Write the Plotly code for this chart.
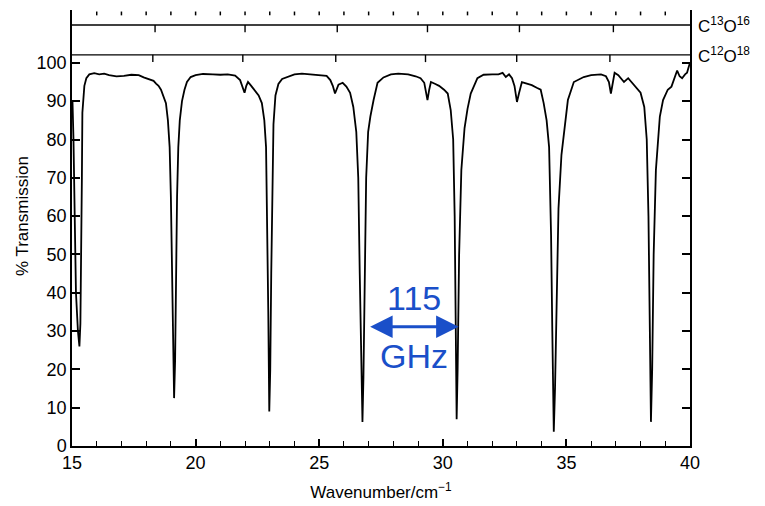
import plotly.graph_objects as go

# ---- data ----
wavenumber = [
    15.00, 15.02, 15.06, 15.10, 15.16, 15.24, 15.30, 15.34, 15.38, 15.40, 15.42, 15.46, 15.50, 15.58, 15.70,
    15.90, 16.10, 16.30, 16.50, 16.80, 17.10, 17.40, 17.70, 17.90, 18.10, 18.30, 18.40, 18.50, 18.60, 18.70,
    18.80, 18.88, 18.95, 19.00, 19.05, 19.09, 19.13, 19.17, 19.21, 19.25, 19.30, 19.36, 19.45, 19.55, 19.65,
    19.80, 20.00, 20.30, 20.70, 21.00, 21.30, 21.60, 21.80, 21.90, 21.98, 22.05, 22.12, 22.25, 22.40, 22.55,
    22.68, 22.78, 22.85, 22.90, 22.94, 22.98, 23.02, 23.06, 23.10, 23.15, 23.23, 23.35, 23.50, 23.75, 24.00,
    24.30, 24.70, 25.00, 25.30, 25.45, 25.55, 25.64, 25.70, 25.78, 25.95, 26.10, 26.25, 26.38, 26.50, 26.58,
    26.64, 26.70, 26.75, 26.79, 26.84, 26.90, 26.98, 27.07, 27.20, 27.36, 27.60, 27.90, 28.20, 28.60, 28.90,
    29.10, 29.25, 29.38, 29.45, 29.52, 29.70, 29.85, 30.05, 30.20, 30.32, 30.42, 30.48, 30.52, 30.56, 30.60,
    30.66, 30.75, 30.88, 31.00, 31.13, 31.40, 31.65, 32.00, 32.25, 32.42, 32.55, 32.68, 32.80, 32.90, 33.00,
    33.08, 33.20, 33.40, 33.60, 33.80, 33.96, 34.08, 34.20, 34.30, 34.38, 34.43, 34.49, 34.54, 34.60, 34.68,
    34.80, 34.92, 35.06, 35.30, 35.70, 36.00, 36.40, 36.60, 36.72, 36.80, 36.88, 36.95, 37.10, 37.33, 37.50,
    37.73, 37.90, 38.00, 38.15, 38.25, 38.32, 38.37, 38.42, 38.47, 38.53, 38.62, 38.78, 38.91, 39.10, 39.25,
    39.40, 39.48, 39.58, 39.68, 39.80, 39.88, 39.95, 40.00,
]
transmission = [
    90.0, 90.0, 80.0, 60.0, 40.0, 30.0, 26.0, 32.0, 50.0, 70.0, 87.0, 90.0, 94.0, 96.0, 97.0,
    97.3, 97.0, 97.2, 96.8, 96.5, 96.6, 96.9, 96.8, 96.2, 95.8, 95.3, 94.6, 94.0, 93.0, 91.5,
    89.5, 85.0, 78.0, 65.0, 45.0, 25.0, 12.5, 22.0, 45.0, 65.0, 78.0, 85.0, 90.0, 93.0, 95.0,
    96.3, 96.8, 97.1, 97.0, 96.9, 97.0, 96.7, 95.5, 93.5, 92.2, 94.0, 95.0, 94.0, 92.8, 91.5,
    89.5, 85.0, 78.0, 60.0, 35.0, 9.0, 20.0, 45.0, 70.0, 84.0, 91.5, 94.5, 95.8, 96.4, 97.0,
    97.2, 96.9, 96.8, 96.6, 95.5, 94.0, 92.0, 93.0, 94.3, 94.8, 93.8, 92.2, 88.5, 82.0, 70.0,
    45.0, 20.0, 6.3, 18.0, 45.0, 70.0, 82.0, 86.0, 90.3, 94.8, 96.2, 97.0, 97.2, 97.0, 96.5,
    96.0, 94.8, 90.3, 93.0, 95.0, 94.5, 94.0, 93.0, 92.0, 87.7, 80.0, 60.0, 35.0, 7.0, 20.0,
    50.0, 72.0, 83.0, 88.0, 92.0, 96.0, 96.9, 97.0, 97.0, 97.4, 96.3, 97.0, 96.0, 94.0, 89.8,
    92.0, 95.0, 94.6, 94.2, 93.5, 93.0, 89.5, 85.0, 78.0, 55.0, 30.0, 3.7, 15.0, 40.0, 62.0,
    76.0, 83.0, 90.3, 95.0, 96.3, 96.8, 97.0, 96.5, 95.0, 92.0, 95.0, 97.4, 96.8, 95.0, 96.0,
    94.3, 93.2, 92.2, 88.5, 80.0, 60.0, 30.0, 6.3, 20.0, 50.0, 72.0, 86.0, 90.3, 93.0, 93.8,
    96.5, 98.0, 96.5, 96.0, 97.0, 97.4, 99.0, 100.0,
]

# isotopologue reference scales (baseline levels and line positions)
iso_labels = ["C<sup>13</sup>O<sup>16</sup>", "C<sup>12</sup>O<sup>18</sup>"]
iso_levels = [109.9, 102.1]
iso_lines = [
    [18.36, 22.00, 25.73, 29.38, 33.10, 36.90],
    [18.27, 21.91, 25.67, 29.30, 32.99, 36.76],
]
iso_tick_depth = 1.9

# small scale marks along the top edge (one per cm^-1)
top_marks = [16, 17, 18, 19, 20, 21, 22, 23, 24, 25, 26, 27, 28, 29, 30,
             31, 32, 33, 34, 35, 36, 37, 38, 39]
top_mark_span = [112.4, 113.4]

x_range = [15, 40]
y_range = [0, 113.8]
y_ticks = [0, 10, 20, 30, 40, 50, 60, 70, 80, 90, 100]
x_ticks = [15, 20, 25, 30, 35, 40]

x_title = "Wavenumber/cm<sup>−1</sup>"
y_title = "% Transmission"
y_title_level = 60.0

arrow_from = 27.0
arrow_to = 30.64
arrow_level = 31.1
note_top = "115"
note_bottom = "GHz"

BLUE = "#1a4fc9"
FONT = "Liberation Sans, Arial, sans-serif"

fig = go.Figure()

fig.add_trace(go.Scatter(
    x=wavenumber, y=transmission, mode="lines",
    line=dict(color="black", width=1.8), showlegend=False, hoverinfo="skip",
))

for level, lines in zip(iso_levels, iso_lines):
    xs = [x_range[0], x_range[1], None]
    ys = [level, level, None]
    for p in lines:
        xs += [p, p, None]
        ys += [level, level - iso_tick_depth, None]
    fig.add_trace(go.Scatter(
        x=xs, y=ys, mode="lines",
        line=dict(color="black", width=1.4), showlegend=False, hoverinfo="skip",
    ))

mx, my = [], []
for p in top_marks:
    mx += [p, p, None]
    my += [top_mark_span[0], top_mark_span[1], None]
fig.add_trace(go.Scatter(
    x=mx, y=my, mode="lines", line=dict(color="black", width=1.5),
    showlegend=False, hoverinfo="skip",
))

for label, level in zip(iso_labels, iso_levels):
    fig.add_annotation(
        x=1.0, xref="paper", y=level, yref="y", text=label, showarrow=False,
        xanchor="left", yanchor="middle", xshift=6,
        font=dict(family=FONT, size=17, color="black"),
    )

fig.add_annotation(
    x=0.0, xref="paper", y=y_title_level, yref="y", text=y_title, showarrow=False,
    textangle=-90, xanchor="center", yanchor="middle", xshift=-50,
    font=dict(family=FONT, size=17, color="black"),
)

fig.add_annotation(
    x=arrow_to, y=arrow_level, ax=arrow_from, ay=arrow_level,
    xref="x", yref="y", axref="x", ayref="y", text="",
    showarrow=True, arrowhead=2, startarrowhead=2, arrowside="end+start",
    arrowwidth=3, arrowsize=1.5, startarrowsize=1.5, arrowcolor=BLUE,
)
mid = (arrow_from + arrow_to) / 2
fig.add_annotation(x=mid, y=arrow_level, xref="x", yref="y", text=note_top,
                   showarrow=False, yanchor="bottom", yshift=8,
                   font=dict(family=FONT, size=34, color=BLUE))
fig.add_annotation(x=mid, y=arrow_level, xref="x", yref="y", text=note_bottom,
                   showarrow=False, yanchor="top", yshift=-8,
                   font=dict(family=FONT, size=34, color=BLUE))

# page body adds an 8px offset; size the figure so the plot lands where the reference has it
fig.update_layout(
    width=757, height=498,
    margin=dict(l=64, r=75, t=2, b=60, autoexpand=False),
    paper_bgcolor="white", plot_bgcolor="white",
    font=dict(family=FONT, size=18, color="black"),
    xaxis=dict(
        range=x_range, tickvals=x_ticks, ticks="inside", ticklen=7, tickwidth=1.5,
        tickcolor="black", showline=True, linecolor="black", linewidth=1.5,
        showgrid=False, zeroline=False, automargin=False,
        minor=dict(dtick=1, ticks="inside", ticklen=5, tickwidth=1.2, tickcolor="black", showgrid=False),
        tickfont=dict(size=18),
        title=dict(text=x_title, font=dict(size=17), standoff=14),
    ),
    yaxis=dict(
        range=y_range, tickvals=y_ticks, ticks="inside", ticklen=8, tickwidth=1.5,
        tickcolor="black", showline=True, linecolor="black", linewidth=1.5,
        mirror="ticks", showgrid=False, zeroline=False, automargin=False,
        tickfont=dict(size=18),
    ),
)

fig.write_html("out.html")
